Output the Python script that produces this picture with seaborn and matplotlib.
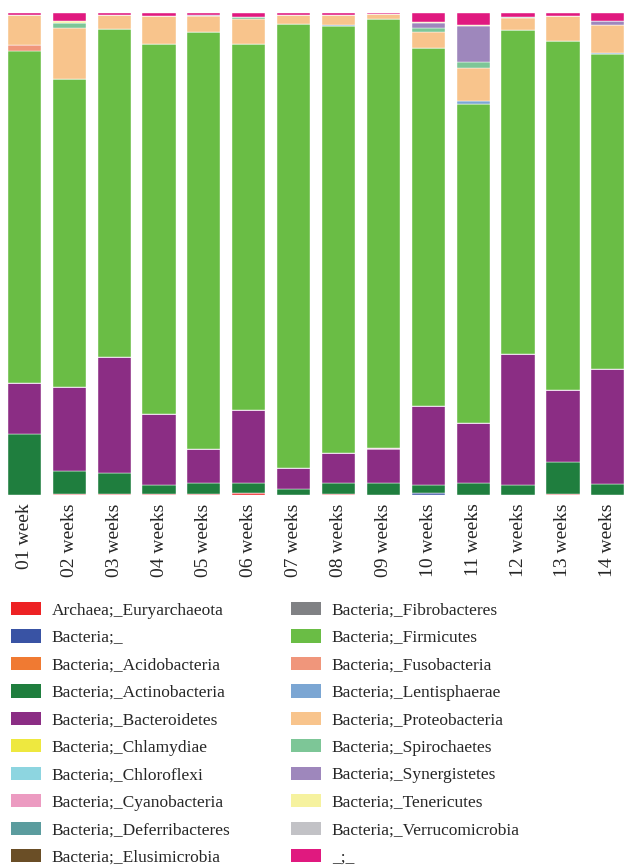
import matplotlib
matplotlib.use('Agg')
import matplotlib.pyplot as plt
from matplotlib.patches import Patch
import numpy as np
import pandas as pd
import seaborn as sns

sns.set_style('white')
plt.rcParams['font.family'] = ['Liberation Serif', 'DejaVu Serif']

# x categories
weeks = ['01 week', '02 weeks', '03 weeks', '04 weeks', '05 weeks', '06 weeks', '07 weeks',
         '08 weeks', '09 weeks', '10 weeks', '11 weeks', '12 weeks', '13 weeks', '14 weeks']

# relative abundance per phylum (bottom -> top in stack order)
archaea_euryarchaeota = [0.000, 0.003, 0.003, 0.002, 0.002, 0.005, 0.000, 0.003, 0.000, 0.000, 0.000, 0.000, 0.003, 0.000]
bacteria_unknown      = [0.000, 0.000, 0.000, 0.000, 0.000, 0.000, 0.000, 0.000, 0.000, 0.004, 0.000, 0.000, 0.000, 0.000]
acidobacteria         = [0.000] * 14
actinobacteria        = [0.127, 0.046, 0.042, 0.019, 0.023, 0.020, 0.012, 0.021, 0.025, 0.017, 0.025, 0.020, 0.066, 0.023]
bacteroidetes         = [0.105, 0.175, 0.242, 0.148, 0.071, 0.151, 0.045, 0.064, 0.071, 0.163, 0.125, 0.272, 0.148, 0.239]
chlamydiae            = [0.000] * 14
chloroflexi           = [0.000] * 14
cyanobacteria         = [0.000, 0.000, 0.000, 0.000, 0.000, 0.000, 0.000, 0.000, 0.002, 0.000, 0.000, 0.000, 0.000, 0.000]
deferribacteres       = [0.000] * 14
elusimicrobia         = [0.000] * 14
fibrobacteres         = [0.000] * 14
firmicutes            = [0.690, 0.640, 0.680, 0.767, 0.865, 0.759, 0.920, 0.886, 0.890, 0.744, 0.662, 0.673, 0.725, 0.652]
fusobacteria          = [0.012, 0.000, 0.000, 0.000, 0.000, 0.000, 0.000, 0.000, 0.000, 0.000, 0.000, 0.000, 0.000, 0.000]
lentisphaerae         = [0.000, 0.000, 0.000, 0.000, 0.000, 0.000, 0.000, 0.001, 0.000, 0.000, 0.005, 0.000, 0.000, 0.003]
proteobacteria        = [0.061, 0.104, 0.029, 0.058, 0.033, 0.053, 0.019, 0.021, 0.009, 0.033, 0.068, 0.024, 0.051, 0.059]
spirochaetes          = [0.000, 0.012, 0.000, 0.000, 0.000, 0.004, 0.000, 0.000, 0.000, 0.008, 0.013, 0.002, 0.000, 0.000]
synergistetes         = [0.000, 0.000, 0.000, 0.000, 0.002, 0.000, 0.000, 0.000, 0.000, 0.010, 0.074, 0.000, 0.000, 0.007]
tenericutes           = [0.000, 0.004, 0.000, 0.000, 0.000, 0.000, 0.000, 0.000, 0.000, 0.003, 0.004, 0.000, 0.000, 0.000]
verrucomicrobia       = [0.000] * 14
unassigned            = [0.005, 0.016, 0.005, 0.007, 0.003, 0.008, 0.004, 0.004, 0.004, 0.019, 0.024, 0.009, 0.007, 0.017]

phyla = ['Archaea;_Euryarchaeota', 'Bacteria;_', 'Bacteria;_Acidobacteria', 'Bacteria;_Actinobacteria',
         'Bacteria;_Bacteroidetes', 'Bacteria;_Chlamydiae', 'Bacteria;_Chloroflexi', 'Bacteria;_Cyanobacteria',
         'Bacteria;_Deferribacteres', 'Bacteria;_Elusimicrobia', 'Bacteria;_Fibrobacteres', 'Bacteria;_Firmicutes',
         'Bacteria;_Fusobacteria', 'Bacteria;_Lentisphaerae', 'Bacteria;_Proteobacteria', 'Bacteria;_Spirochaetes',
         'Bacteria;_Synergistetes', 'Bacteria;_Tenericutes', 'Bacteria;_Verrucomicrobia', '_;_']

colors = ['#ED2224', '#3953A4', '#F07A32', '#1F7E3E', '#8B2D84', '#EEE83F', '#8DD5E0', '#EC9BC1',
          '#5B9C9E', '#6A4E26', '#808184', '#6ABD45', '#F0967B', '#7BA6D3', '#F8C48C', '#7DC697',
          '#9E87BC', '#F6F29F', '#C2C2C6', '#E0197F']

values = [archaea_euryarchaeota, bacteria_unknown, acidobacteria, actinobacteria, bacteroidetes,
          chlamydiae, chloroflexi, cyanobacteria, deferribacteres, elusimicrobia, fibrobacteres,
          firmicutes, fusobacteria, lentisphaerae, proteobacteria, spirochaetes, synergistetes,
          tenericutes, verrucomicrobia, unassigned]

df = pd.DataFrame(dict(zip(phyla, values)), index=weeks)

fig = plt.figure(figsize=(6.36, 8.66), dpi=100)
ax = fig.add_axes([0.003, 0.4284, 0.988, 0.5566])

bottom = np.zeros(len(weeks))
for name, col in zip(phyla, colors):
    sns.barplot(x=weeks, y=df[name].values, bottom=bottom, color=col, width=0.74,
                saturation=1, edgecolor='white', linewidth=0.3, ax=ax)
    bottom = bottom + df[name].values

ax.set_ylim(0, 1)
ax.set_xlim(-0.5, len(weeks) - 0.5)
ax.set_yticks([])
ax.tick_params(axis='x', length=0, pad=6, labelsize=14, rotation=90)
for s in ax.spines.values():
    s.set_visible(False)

# legend in two columns
handles = [Patch(facecolor=c, edgecolor='none') for c in colors]
leg_kw = dict(frameon=False, fontsize=12.5, handlelength=1.72, handleheight=0.8,
              handletextpad=0.63, labelspacing=0.62, borderaxespad=0, borderpad=0,
              loc='upper left')
W, H = 636, 866
leg1 = fig.legend(handles[:10], phyla[:10], bbox_to_anchor=(11 / W, 1 - 602 / H), **leg_kw)
leg2 = fig.legend(handles[10:], phyla[10:], bbox_to_anchor=(291 / W, 1 - 602 / H), **leg_kw)

plt.savefig('out.png', dpi=100)
